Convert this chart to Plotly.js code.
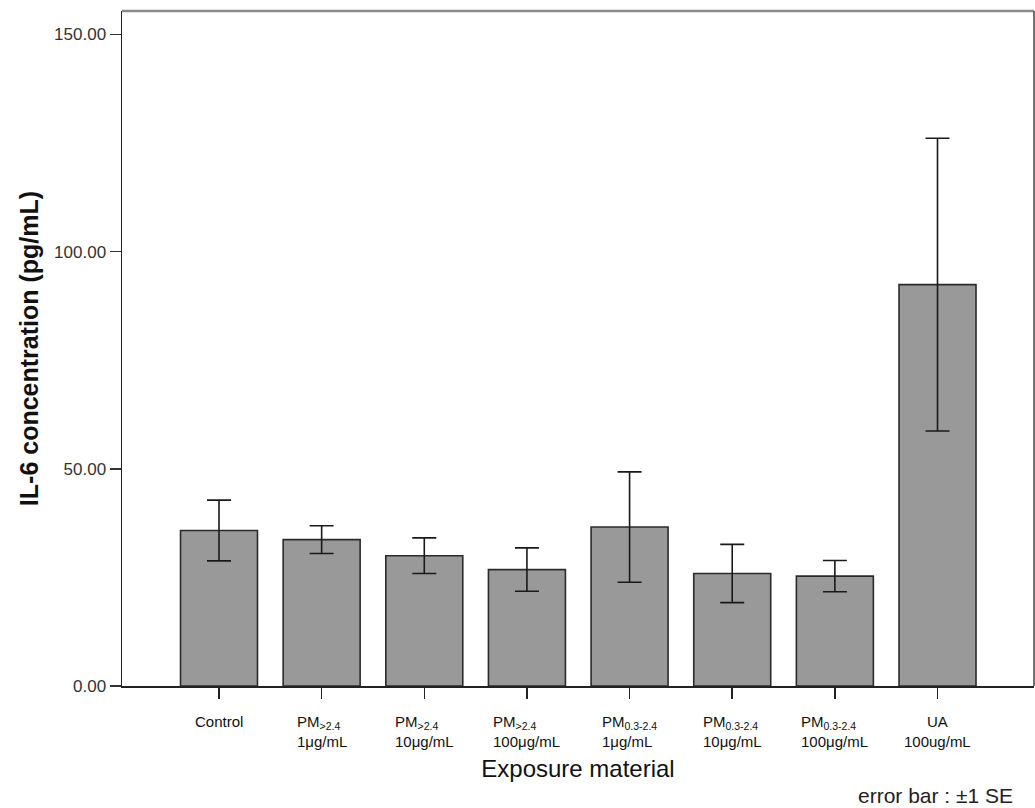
<!DOCTYPE html>
<html>
<head>
<meta charset="utf-8">
<script src="https://cdn.plot.ly/plotly-3.0.1.min.js"></script>
<style>html,body{margin:0;padding:0;background:#fff;}#chart{width:1035px;height:808px;}</style>
</head>
<body>
<div id="chart"></div>
<script>
// Data
const categories = ["Control", "PM>2.4 1", "PM>2.4 10", "PM>2.4 100", "PM0.3-2.4 1", "PM0.3-2.4 10", "PM0.3-2.4 100", "UA 100"];
const tickLabels = [
  "Control",
  "PM<sub>>2.4</sub><br>1μg/mL",
  "PM<sub>>2.4</sub><br>10μg/mL",
  "PM<sub>>2.4</sub><br>100μg/mL",
  "PM<sub>0.3-2.4</sub><br>1μg/mL",
  "PM<sub>0.3-2.4</sub><br>10μg/mL",
  "PM<sub>0.3-2.4</sub><br>100μg/mL",
  "UA<br>100ug/mL"
];
const meanValues = [35.8, 33.7, 30.0, 26.8, 36.6, 25.9, 25.3, 92.4];
const seValues = [7.0, 3.2, 4.1, 5.0, 12.7, 6.7, 3.6, 33.7];
const yTickValues = [0, 50, 100, 150];

const FONT = "Liberation Sans, Arial, sans-serif";
const xIdx = categories.map((c, i) => i);

const trace = {
  type: "bar",
  x: xIdx,
  y: meanValues,
  width: 0.75,
  marker: {color: "#999999", line: {color: "#2b2b2b", width: 1.6}},
  error_y: {type: "data", array: seValues, visible: true, color: "#1a1a1a", thickness: 1.6, width: 12},
  hoverinfo: "none"
};

const annotations = tickLabels.map((t, i) => ({
  x: i, xref: "x", y: 0, yref: "paper",
  yshift: -25, yanchor: "top", xanchor: "center", align: i === 0 || i === 7 ? "center" : "left",
  text: t, showarrow: false,
  font: {family: FONT, size: 15, color: "#111"}
}));
annotations.push({
  x: 1, xref: "paper", y: 0, yref: "paper", yshift: -109, xshift: -19,
  xanchor: "right", yanchor: "middle",
  text: "error bar : ±1 SE", showarrow: false,
  font: {family: FONT, size: 21, color: "#222"}
});

const layout = {
  width: 1035, height: 808,
  margin: {l: 122, r: 1, t: 11, b: 121.5},
  paper_bgcolor: "#fff", plot_bgcolor: "#fff",
  showlegend: false,
  xaxis: {
    range: [-0.945, 7.94],
    tickvals: xIdx, ticktext: xIdx.map(() => ""),
    ticks: "outside", ticklen: 11, tickwidth: 1.5, tickcolor: "#222",
    showline: true, linecolor: "#222", linewidth: 1.5,
    showgrid: false, zeroline: false,
    title: {text: "Exposure material", standoff: 60,
      font: {family: FONT, size: 24, color: "#111"}}
  },
  yaxis: {
    range: [0, 155.4],
    tickvals: yTickValues, ticktext: yTickValues.map(v => v.toFixed(2)),
    ticks: "outside", ticklen: 11, tickwidth: 1.5, tickcolor: "#333",
    tickfont: {family: FONT, size: 17, color: "#333"},
    showline: true, linecolor: "#222", linewidth: 1.5,
    showgrid: false, zeroline: false,
    title: {text: "<b>IL-6 concentration (pg/mL)</b>", standoff: 8,
      font: {family: FONT, size: 25, color: "#111"}}
  },
  shapes: [
    {type: "line", xref: "paper", yref: "paper", x0: 0, x1: 1, y0: 1, y1: 1, line: {color: "#8a8a8a", width: 2.5}},
    {type: "line", xref: "paper", yref: "paper", x0: 1, x1: 1, y0: 0, y1: 1, line: {color: "#444", width: 1.5}}
  ],
  annotations: annotations
};

Plotly.newPlot("chart", [trace], layout, {displayModeBar: false, staticPlot: true});
</script>
</body>
</html>
